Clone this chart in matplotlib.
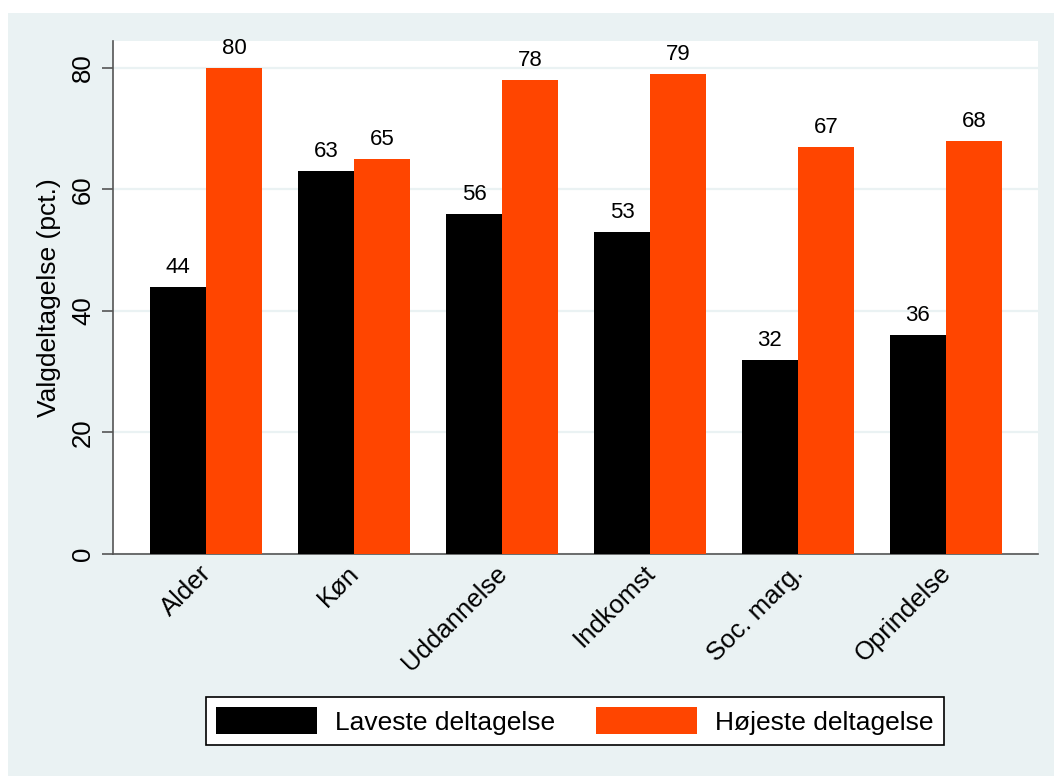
import matplotlib
matplotlib.use('Agg')
import matplotlib.pyplot as plt
from matplotlib.patches import Rectangle
from matplotlib.transforms import ScaledTranslation
import numpy as np

plt.rcParams['font.family'] = ['Liberation Sans', 'DejaVu Sans']

categories = ['Alder', 'Køn', 'Uddannelse', 'Indkomst', 'Soc. marg.', 'Oprindelse']
laveste = [44, 63, 56, 53, 32, 36]
hojeste = [80, 65, 78, 79, 67, 68]
series_names = ['Laveste deltagelse', 'Højeste deltagelse']

bg = '#EAF2F3'
orange = '#FF4500'
axis_col = '#555555'

W, H = 1054, 776
fig = plt.figure(figsize=(W / 100, H / 100), dpi=100)
fig.patch.set_facecolor('white')
# bluish graph region (Stata style), kept behind the axes
fig.patches.append(Rectangle((8 / W, 0), 1 - 8 / W, 1 - 13 / H, transform=fig.transFigure,
                             facecolor=bg, edgecolor='none', zorder=-10))

ax = fig.add_axes([113 / W, (H - 554) / H, 925 / W, 513 / H])
ax.set_facecolor('white')

x = np.arange(len(categories))
w = 0.378
b1 = ax.bar(x - w / 2, laveste, w, color='black', label=series_names[0], zorder=3)
b2 = ax.bar(x + w / 2, hojeste, w, color=orange, label=series_names[1], zorder=3)

for bars, vals in [(b1, laveste), (b2, hojeste)]:
    for r, v in zip(bars, vals):
        ax.annotate(str(v), (r.get_x() + r.get_width() / 2, v), xytext=(0, 10),
                    textcoords='offset points', ha='center', va='baseline', fontsize=16)

ax.set_xlim(-0.628, 5.622)
ax.set_ylim(0, 84.44)
ax.set_yticks([0, 20, 40, 60, 80])
ax.yaxis.grid(True, color=bg, linewidth=1.6, zorder=0)
ax.set_axisbelow(True)

for s in ['top', 'right']:
    ax.spines[s].set_visible(False)
for s in ['left', 'bottom']:
    ax.spines[s].set_color(axis_col)
    ax.spines[s].set_linewidth(1.2)

ax.set_xticks(x)
ax.set_xticklabels(categories, rotation=45, ha='right', va='top', fontsize=18.5)
ax.tick_params(axis='x', length=0, pad=5)
# nudge rotated labels right, like Stata places them
shift = ScaledTranslation(10 / 100, 0, fig.dpi_scale_trans)
for lab in ax.get_xticklabels():
    lab.set_transform(lab.get_transform() + shift)
ax.tick_params(axis='y', length=8, width=1.2, color=axis_col, pad=5, labelsize=18.5)
for lab in ax.get_yticklabels():
    lab.set_rotation(90)
    lab.set_va('center')

ax.set_ylabel('Valgdeltagelse (pct.)', fontsize=19)
ax.yaxis.set_label_coords(-0.056, 0.5)

leg = fig.legend(handles=[b1, b2], labels=series_names, loc='center',
                 bbox_to_anchor=(575 / W, (H - 721) / H), ncol=2, fontsize=19,
                 frameon=True, fancybox=False, edgecolor='black', framealpha=1,
                 handlelength=3.83, handleheight=1.15, handletextpad=0.68,
                 columnspacing=1.55, borderpad=0.4, borderaxespad=0)
leg.get_frame().set_linewidth(1.2)

plt.savefig('out.png', dpi=100)
